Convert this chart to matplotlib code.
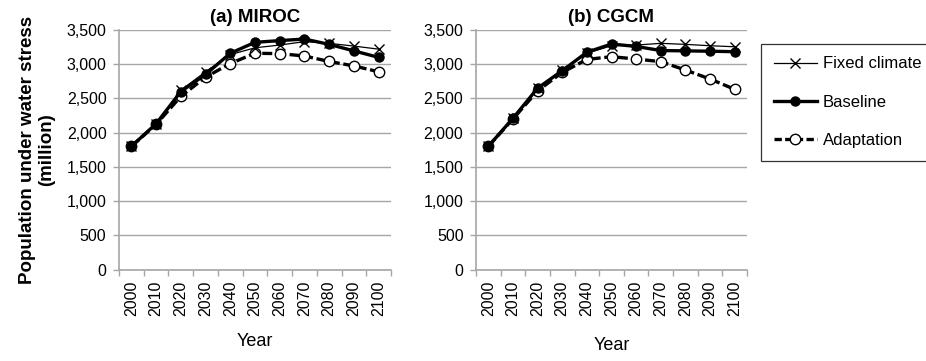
import matplotlib
matplotlib.use("Agg")
import matplotlib.pyplot as plt
from matplotlib.ticker import FuncFormatter, FixedLocator
from matplotlib.lines import Line2D

years = ["2000", "2010", "2020", "2030", "2040", "2050", "2060", "2070", "2080", "2090", "2100"]

miroc_fixed = [1800, 2130, 2620, 2890, 3140, 3240, 3280, 3330, 3305, 3265, 3220]
miroc_base = [1800, 2130, 2600, 2850, 3160, 3320, 3345, 3368, 3290, 3195, 3100]
miroc_adapt = [1800, 2120, 2530, 2810, 3010, 3160, 3155, 3120, 3040, 2975, 2890]

cgcm_fixed = [1800, 2210, 2650, 2920, 3160, 3270, 3280, 3305, 3290, 3270, 3255]
cgcm_base = [1800, 2210, 2650, 2905, 3175, 3295, 3260, 3200, 3195, 3190, 3183]
cgcm_adapt = [1800, 2200, 2610, 2880, 3070, 3110, 3076, 3037, 2915, 2784, 2633]

titles = ["(a) MIROC", "(b) CGCM"]
ylabel = "Population under water stress\n(million)"
xlabel = "Year"
legend_labels = ["Fixed climate", "Baseline", "Adaptation"]

plt.rcParams['font.family'] = ['Liberation Sans', 'DejaVu Sans']

fig = plt.figure(figsize=(9.26, 3.61), dpi=100)
ax_a = fig.add_axes([119/926, 1-269.5/361, 272/926, 239.5/361])
ax_b = fig.add_axes([476/926, 1-269.5/361, 271/926, 239.5/361])

grey = "#a6a6a6"
data = [(miroc_fixed, miroc_base, miroc_adapt), (cgcm_fixed, cgcm_base, cgcm_adapt)]
dash = (0, (3.0, 1.1))

for ax, title, (fx, bs, ad), lp in zip([ax_a, ax_b], titles, data, [12, 15]):
    x = list(range(len(years)))
    ax.plot(x, ad, color="black", lw=2.4, ls=dash, marker="o", ms=7.5,
            mfc="white", mec="black", mew=1.0, zorder=3)
    ax.plot(x, fx, color="black", lw=0.9, marker="x", ms=7.0, mew=1.0, zorder=4)
    ax.plot(x, bs, color="black", lw=2.4, marker="o", ms=6.5, mfc="black", mec="black", zorder=5)
    ax.set_xlim(-0.5, len(years) - 0.5)
    ax.set_ylim(0, 3500)
    ax.set_yticks(range(0, 3501, 500))
    ax.yaxis.set_major_formatter(FuncFormatter(lambda v, p: f"{int(v):,}"))
    ax.set_xticks(x)
    ax.set_xticklabels(years, rotation=90, fontsize=11.5)
    ax.xaxis.set_minor_locator(FixedLocator([i - 0.5 for i in range(len(years) + 1)]))
    ax.tick_params(axis="x", which="major", length=0, pad=8)
    ax.tick_params(axis="x", which="minor", length=4, color=grey, width=1)
    ax.tick_params(axis="y", length=4, color=grey, width=1, labelsize=11.5, pad=5)
    ax.grid(axis="y", color=grey, lw=1)
    ax.set_axisbelow(True)
    for s in ["top", "right"]:
        ax.spines[s].set_visible(False)
    for s in ["left", "bottom"]:
        ax.spines[s].set_color(grey)
        ax.spines[s].set_linewidth(1.2)
    ax.set_title(title, fontsize=13.5, fontweight="bold", pad=6)
    ax.set_xlabel(xlabel, fontsize=13, labelpad=lp)

ax_a.set_ylabel(ylabel, fontsize=13.5, fontweight="bold", labelpad=8)

handles = [
    Line2D([], [], color="black", lw=0.9, marker="x", ms=7.0, mew=1.0),
    Line2D([], [], color="black", lw=2.4, marker="o", ms=6.5, mfc="black"),
    Line2D([], [], color="black", lw=2.4, ls=(0, (2.2, 1.0)), marker="o", ms=7.5, mfc="white", mew=1.0),
]
leg = fig.legend(handles, legend_labels, loc="upper left", bbox_to_anchor=(761/926, 1-44/361),
                 frameon=True, fancybox=False, edgecolor="black", fontsize=12,
                 handlelength=2.6, labelspacing=1.4, borderpad=0.75, handletextpad=0.35,
                 borderaxespad=0)
leg.get_frame().set_linewidth(0.9)

fig.savefig("out.png", dpi=100)
